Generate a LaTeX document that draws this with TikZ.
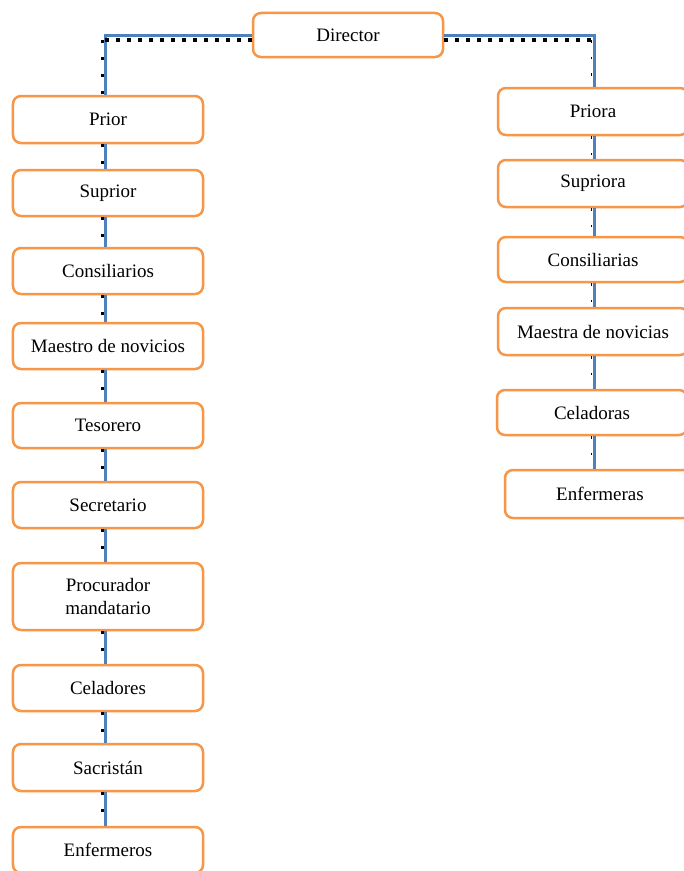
\documentclass[tikz,border=0pt]{standalone}
\usepackage{fontspec}
\setmainfont{Liberation Serif}
\definecolor{boxorange}{HTML}{F79646}
\definecolor{lineblue}{HTML}{4F81BD}
\begin{document}
\begin{tikzpicture}[x=1bp,y=-1bp,
  orgbox/.style={draw=boxorange, line width=2.5bp, rounded corners=8bp, fill=white,
    minimum width=190bp, inner sep=0pt, align=center,
    font=\fontsize{19bp}{23bp}\selectfont},
  blueline/.style={draw=lineblue, line width=3bp},
  hdots/.style={draw=black, line width=3.5bp, dash pattern=on 3.5bp off 7.5bp},
  vdots/.style={draw=black, line width=3bp, dash pattern=on 3bp off 14bp},
  rdots/.style={draw=black, line width=1.5bp, dash pattern=on 2.5bp off 14bp}]
\useasboundingbox (0,0) rectangle (684,871);
\clip (0,0) rectangle (684,871);
\fill[white] (0,0) rectangle (684,871);

\coordinate (lx) at (105.5,0);
\coordinate (ldx) at (102,0);
\coordinate (rx) at (594.5,0);
\coordinate (rdx) at (591.5,0);

% boxes
\node[orgbox, minimum height=44bp] (dir) at (348,35) {Director};

\node[orgbox, minimum height=47bp] (l1) at (108,119.5) {Prior};
\node[orgbox, minimum height=46bp] (l2) at (108,193) {Suprior};
\node[orgbox, minimum height=46bp] (l3) at (108,271) {Consiliarios};
\node[orgbox, minimum height=46bp] (l4) at (108,346) {Maestro de novicios};
\node[orgbox, minimum height=45bp] (l5) at (108,425.5) {Tesorero};
\node[orgbox, minimum height=46bp] (l6) at (108,505) {Secretario};
\node[orgbox, minimum height=67bp] (l7) at (108,596.5) {Procurador\\mandatario};
\node[orgbox, minimum height=46bp] (l8) at (108,688) {Celadores};
\node[orgbox, minimum height=47bp] (l9) at (108,767.5) {Sacristán};
\node[orgbox, minimum height=46bp] (l10) at (108,850) {Enfermeros};

\node[orgbox, minimum height=47bp] (r1) at (593,111.5) {Priora};
\node[orgbox, minimum height=47bp] (r2) at (593,183.5) {Supriora};
\node[orgbox, minimum height=45bp] (r3) at (593,259.5) {Consiliarias};
\node[orgbox, minimum height=47bp] (r4) at (593,331.5) {Maestra de novicias};
\node[orgbox, minimum height=45bp] (r5) at (592,412.5) {Celadoras};
\node[orgbox, minimum height=48bp] (r6) at (600,494) {Enfermeras};

% top connectors
\draw[blueline] (dir.west) -| (l1.north -| lx);
\draw[hdots] ([yshift=-5bp]dir.west) -- ([yshift=-5bp]dir.west -| ldx);
\draw[vdots] ([yshift=-5bp]dir.west -| ldx) -- (l1.north -| ldx);
\draw[blueline] (dir.east) -| (r1.north -| rx);
\draw[hdots] ([yshift=-5bp]dir.east) -- ([yshift=-5bp]dir.east -| rdx);
\draw[rdots] ([yshift=-5bp]dir.east -| rdx) -- (r1.north -| rdx);

% left chain
\foreach \a/\b in {l1/l2,l2/l3,l3/l4,l4/l5,l5/l6,l6/l7,l7/l8,l8/l9,l9/l10}{
  \draw[blueline] (\a.south -| lx) -- (\b.north -| lx);
  \draw[vdots] (\a.south -| ldx) -- (\b.north -| ldx);
}
% right chain
\foreach \a/\b in {r1/r2,r2/r3,r3/r4,r4/r5,r5/r6}{
  \draw[blueline] (\a.south -| rx) -- (\b.north -| rx);
  \draw[rdots] (\a.south -| rdx) -- (\b.north -| rdx);
}
\end{tikzpicture}
\end{document}
